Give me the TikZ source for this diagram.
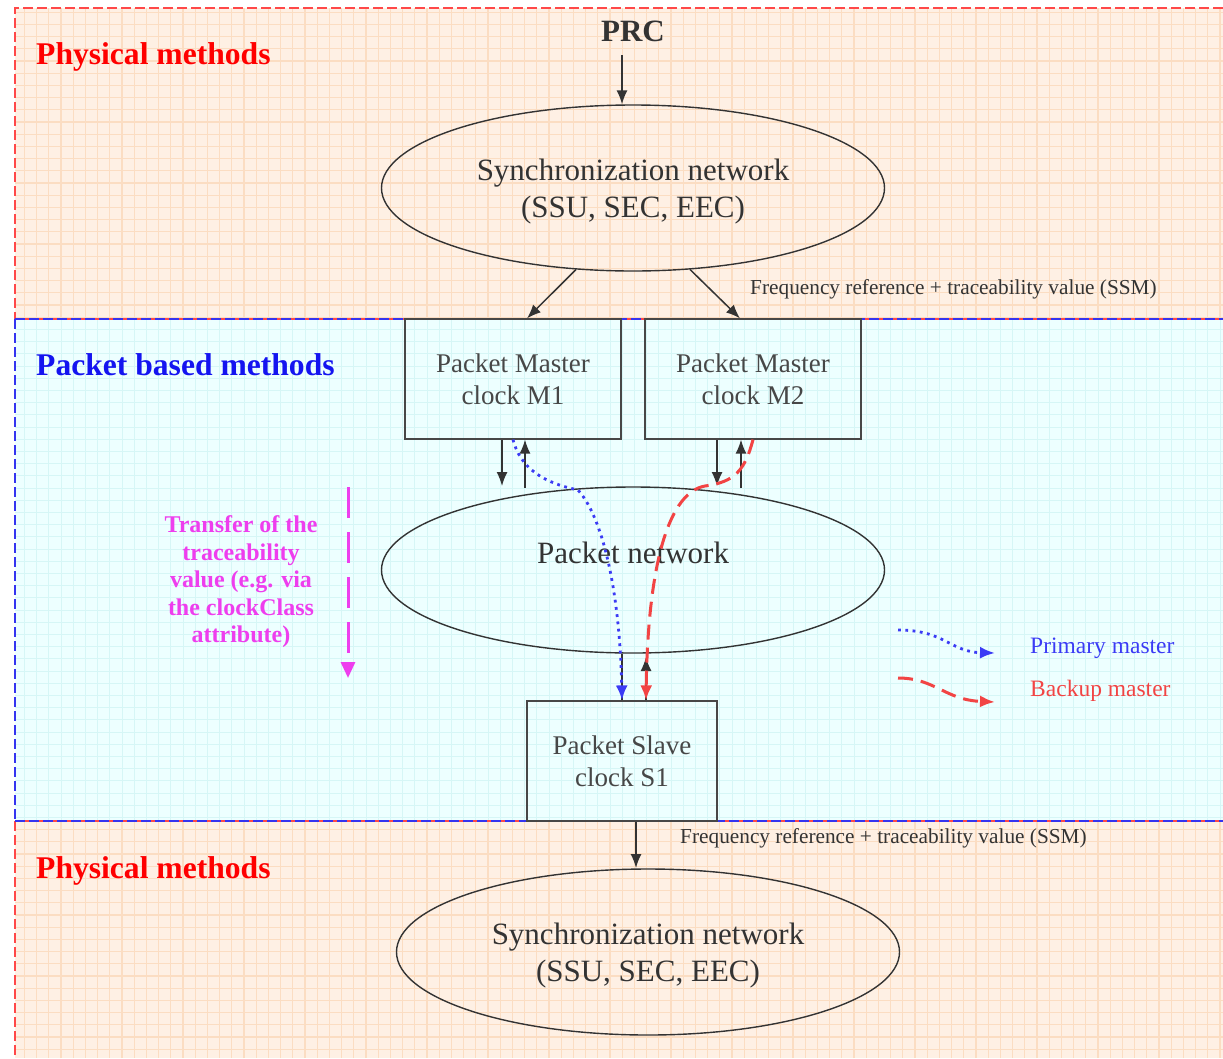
\documentclass[tikz,border=0pt]{standalone}
\usepackage{fontspec}
\setmainfont{Liberation Serif}
\usetikzlibrary{arrows.meta,shapes.geometric,calc}

\definecolor{peach}{HTML}{FEF0E4}
\definecolor{peachgrid}{HTML}{FBDDC2}
\definecolor{aqua}{HTML}{EDFFFF}
\definecolor{aquagrid}{HTML}{D6F6F6}
\definecolor{framered}{HTML}{FF4848}
\definecolor{frameblue}{HTML}{3434F0}
\definecolor{ink}{HTML}{333333}
\definecolor{boxink}{HTML}{474747}
\definecolor{headred}{HTML}{FF0000}
\definecolor{headblue}{HTML}{1414F0}
\definecolor{pri}{HTML}{3B3BF5}
\definecolor{bak}{HTML}{F24444}
\definecolor{mag}{HTML}{EE3EEE}

\tikzset{
  regionhead/.style={anchor=base west, inner sep=0pt,
    font=\fontsize{31.6}{37}\selectfont\bfseries},
  netshape/.style={ellipse, draw=ink, line width=1.4pt, minimum width=503pt,
    minimum height=166pt, inner sep=0pt},
  nettext/.style={inner sep=0pt, text=ink, align=center,
    font=\fontsize{31}{37}\selectfont},
  clockbox/.style={rectangle, draw=boxink, line width=1.2pt, minimum width=216pt,
    minimum height=120pt, inner sep=0pt, text=boxink, align=center,
    font=\fontsize{27}{32}\selectfont},
  note/.style={anchor=base west, inner sep=0pt, text=ink,
    font=\fontsize{21.3}{25}\selectfont},
  legendtext/.style={anchor=base west, inner sep=0pt,
    font=\fontsize{23.5}{28}\selectfont},
  link/.style={draw=ink, line width=1.5pt, -{Latex[length=14pt,width=11pt]}},
  primary/.style={draw=pri, line width=2.8pt,
    dash pattern=on 2.8pt off 4.5pt, -{Latex[length=15pt,width=12pt,color=pri]}},
  backup/.style={draw=bak, line width=3pt, dash pattern=on 15pt off 8pt,
    -{Latex[length=15pt,width=12pt,color=bak]}},
  regionedge/.style={line width=1.6pt, dash pattern=on 10pt off 4pt},
}

\begin{document}
\begin{tikzpicture}[x=1pt,y=-1pt]
\useasboundingbox (0,0) rectangle (1223,1058);

% ---- shaded regions with their grids
\fill[peach] (15,8) rectangle (1223,319);
\draw[peachgrid, line width=1.1pt, step=12.2pt] (15,8) grid (1223,319);
\fill[aqua] (15,319) rectangle (1223,821);
\draw[aquagrid, line width=1pt, step=12.2pt] (15,319) grid (1223,821);
\fill[peach] (15,821) rectangle (1223,1058);
\draw[peachgrid, line width=1.1pt, step=12.2pt] (15,821) grid (1223,1058);

% ---- region borders
\draw[regionedge, framered] (1223,8) -- (15,8) -- (15,319);
\draw[regionedge, frameblue] (15,319) -- (15,821);
\draw[regionedge, framered] (15,821) -- (15,1058);
\draw[framered, line width=1.6pt] (15,319) -- (1223,319);
\draw[regionedge, frameblue, line width=1.8pt] (15,319) -- (1223,319);
\draw[framered, line width=1.6pt] (15,821) -- (1223,821);
\draw[regionedge, frameblue, line width=1.8pt] (15,821) -- (1223,821);

% ---- region headings
\node[regionhead, text=headred] (phys1) at (36,64) {Physical methods};
\node[regionhead, text=headblue] (packet) at (36,375) {Packet based methods};
\node[regionhead, text=headred] (phys2) at (36,878) {Physical methods};

% ---- clocks and networks
\node[anchor=base, inner sep=0pt, text=ink,
      font=\fontsize{31}{37}\selectfont\bfseries] (prc) at (633,41) {PRC};
\node[netshape] (sync1) at (633,188) {};
\node[nettext] (sync1label) at (633,192) {Synchronization network\\(SSU, SEC, EEC)};
\node[clockbox] (m1) at (513,379) {Packet Master\\clock M1};
\node[clockbox] (m2) at (753,379) {Packet Master\\clock M2};
\node[netshape] (pnet) at (633,570) {};
\node[nettext] (pnetlabel) at (633,553) {Packet network};
\node[clockbox, minimum width=190pt] (s1) at (622,761) {Packet Slave\\clock S1};
\node[netshape] (sync2) at (648,952) {};
\node[nettext] (sync2label) at (648,956) {Synchronization network\\(SSU, SEC, EEC)};

% ---- annotations
\node[note] (freq1) at (750,294) {Frequency reference + traceability value (SSM)};
\node[note] (freq2) at (680,843) {Frequency reference + traceability value (SSM)};
\node[align=center, inner sep=0pt, text=mag,
      font=\fontsize{24}{27.5}\selectfont\bfseries] (transfer) at (241,582)
      {Transfer of the\\traceability\\value (e.g. via\\the clockClass\\attribute)};
\node[legendtext, text=pri] (legpri) at (1030,653) {Primary master};
\node[legendtext, text=bak] (legbak) at (1030,696) {Backup master};

% ---- free ends of the short connectors
\coordinate (prcin) at (622,55);
\coordinate (m1dn) at (502,486);
\coordinate (m1up) at (525,488);
\coordinate (m2dn) at (717,486);
\coordinate (m2up) at (741,488);
\coordinate (s1up) at (646,657);
\coordinate (s1out) at (636,868);
\coordinate (magtop) at (348,487);
\coordinate (magend) at (348,678);
\coordinate (lpstart) at (898,630);
\coordinate (lpend) at (995,653);
\coordinate (lbstart) at (898,678);
\coordinate (lbend) at (995,702);

% ---- physical distribution
\draw[link] (prcin) -- (sync1.north -| prcin);
\draw[link] (sync1.235) -- ($(m1.north)+(14,0)$);
\draw[link] (sync1.305) -- ($(m2.north)+(-13,0)$);

% ---- packet exchanges between masters and network
\draw[link] (m1.south -| m1dn) -- (m1dn);
\draw[link] (m1up) -- (m1.south -| m1up);
\draw[link] (m2.south -| m2dn) -- (m2dn);
\draw[link] (m2up) -- (m2.south -| m2up);
\draw[draw=ink, line width=1.5pt] (pnet.south -| s1) -- (s1.north);
\draw[link] (s1.north -| s1up) -- (s1up);

% ---- primary and backup timing paths
\draw[primary] (m1.south) .. controls (522,475) and (555,485) .. (578,490)
      .. controls (605,520) and (620,600) .. (s1.north);
\draw[backup] (m2.south) .. controls (745,470) and (735,482) .. (705,486)
      .. controls (670,492) and (648,560) .. (s1.north -| s1up);

% ---- output to the lower synchronization network
\draw[link] (s1.south -| s1out) -- (s1out);

% ---- traceability transfer
\draw[draw=mag, line width=3pt, dash pattern=on 31pt off 14pt,
      -{Triangle[length=16pt,width=14pt,color=mag]}] (magtop) -- (magend);

% ---- legend
\draw[primary] (lpstart) .. controls (945,630) and (950,652) .. (lpend);
\draw[backup] (lbstart) .. controls (935,678) and (945,700) .. (lbend);
\end{tikzpicture}
\end{document}
